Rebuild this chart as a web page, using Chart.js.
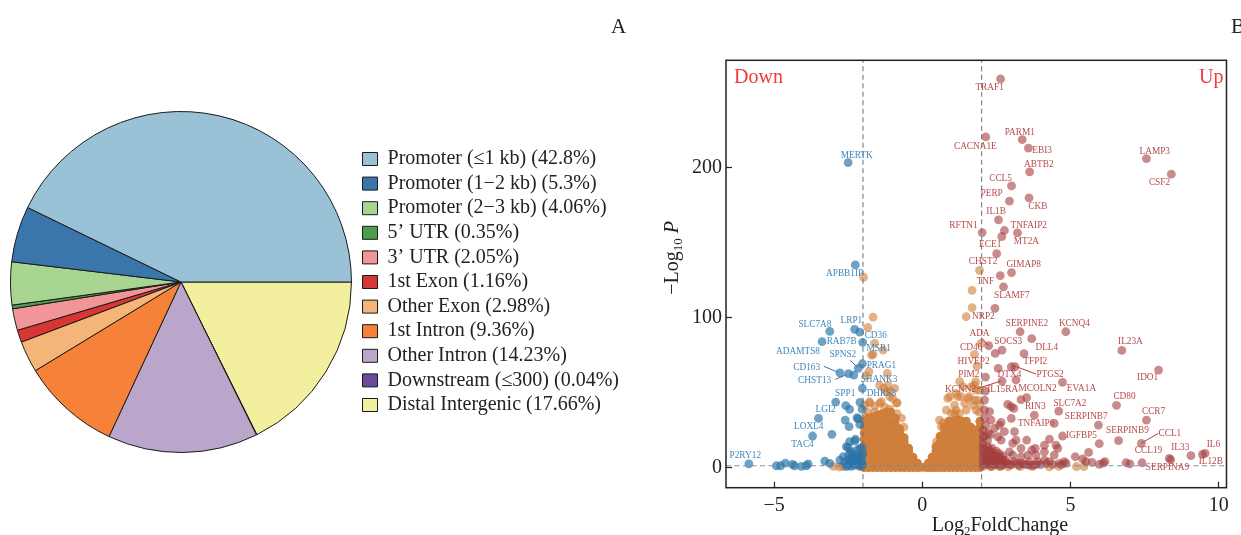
<!DOCTYPE html>
<html>
<head>
<meta charset="utf-8">
<script src="https://cdn.jsdelivr.net/npm/chart.js@4"></script>
<style>
html, body { margin: 0; padding: 0; background: #fff; overflow: hidden; }
#wrap { position: relative; width: 1241px; height: 535px; }
#pieBox { position: absolute; left: 0; top: 0; width: 640px; height: 535px; }
#volcanoBox { position: absolute; left: 640px; top: 0; width: 601px; height: 535px; }
</style>
</head>
<body>
<div id="wrap">
  <div id="pieBox"><canvas id="pieChart"></canvas></div>
  <div id="volcanoBox"><canvas id="volcanoChart"></canvas></div>
</div>
<script>
// panel A
var pieCategories = ['Promoter (≤1 kb)', 'Promoter (1−2 kb)', 'Promoter (2−3 kb)', '5’ UTR', '3’ UTR', '1st Exon', 'Other Exon', '1st Intron', 'Other Intron', 'Downstream (≤300)', 'Distal Intergenic'];
var pieValues = [42.8, 5.3, 4.06, 0.35, 2.05, 1.16, 2.98, 9.36, 14.23, 0.04, 17.66];
var pieColors = ['#9ac2d6', '#3a76ac', '#a8d692', '#4c9e4c', '#f19599', '#d83535', '#f5b478', '#f58238', '#baa6ca', '#6a4a9c', '#f2ef9e'];

// panel B as [log2FC, -log10P]
var downPoints = [[-2.50,203.1],[-2.26,135],[-3.12,90.8],[-2.28,92.1],[-2.11,90.3],[-3.38,83.9],[-2.01,83.4],[-2.02,69.2],[-2.16,66.1],[-2.78,63.2],[-2.49,62.6],[-2.31,61.7],
  [-2.02,52.8],[-2.92,43.7],[-2.58,41.3],[-2.45,38.8],[-2.10,43.5],[-2.03,39],[-3.5,32.8],[-2.2,33.3],[-2.17,32.5],[-2.6,31.7],[-2.11,28.8],[-2.47,27.3],[-3.70,21.1],[-3.05,22.2],
  [-2.45,17.3],[-2.25,19.1],[-2.28,17.7],[-2.56,14],[-2.5,13.6],[-2.11,12.9],[-2.0,9.5],[-2.17,8.4],[-2.36,9.5],[-2.67,7.3],[-2.78,5.1],[-2.39,6.2],[-3.29,4.4],[-3.12,2.9],
  [-5.85,2.6],[-4.92,1.3],[-4.78,1.3],[-4.62,3.1],[-4.38,2.2],[-4.31,1.3],[-4.08,0.9],[-3.91,1.3],[-3.85,2.6],[-2.5,1.8],[-2.56,0.7],[-2.22,2.9],[-2.05,4],[-2.34,4],[-2.11,7.3],
  [-2.44,3.2],[-2.3,1.6],[-2.15,1.5],[-2.62,3.4],[-2.02,2],[-2.26,6],[-2.08,5.6],[-2.42,10.8],[-2.03,13.4],[-2.21,11.6],[-2.4,0.9],[-2.28,3.1],[-2.12,2.4],[-2.5,5.5],[-2.32,7.4],[-2.18,5],[-2.05,7.2],[-2.48,8.6],[-2.06,1.2]];
var upPoints = [[2.64,258.8],[2.14,220.2],[3.37,218.4],[3.58,212.7],[3.62,196.9],[7.56,205.8],[8.40,195.4],[3.01,187.6],[2.94,177.4],[3.60,179.6],[2.57,165],[3.21,156.3],[2.77,157.9],
  [2.68,153.9],[2.02,156.5],[2.51,142.5],[3.01,129.9],[2.63,127.9],[2.74,120.4],[2.45,106.1],[3.30,90.5],[4.84,90.5],[3.69,85.9],[2.24,81.2],[2.46,76.1],[2.69,78.3],[3.43,75.9],
  [6.73,78.1],[2.56,66.1],[3.0,67.2],[3.13,67.2],[2.13,60.3],[3.16,58.4],[2.69,57.7],[4.73,56.8],[7.97,65],[3.52,46.6],[3.33,45.3],[2.88,42.2],[3.09,39.5],[3.0,40.6],[6.55,41.5],
  [4.60,37.7],[3.78,35],[7.56,31.7],[3.0,32.8],[5.94,28.4],[4.45,29.5],[4.73,21.1],[6.62,18],[5.97,16],[7.39,16.2],[5.61,10.2],[9.54,9.5],[9.45,8.9],[9.06,8],[8.33,6.2],[8.38,5.3],
  [5.16,7.3],[5.41,5.8],[5.52,4],[5.72,3.5],[6.16,4],[6.1,3],[5.97,2.2],[6.87,3.3],[7.0,2.6],[7.41,3.3],[2.13,51],[2.1,45],[2.1,38.4],[2.27,37.3],[2.1,32.8],[2.32,31.7],[2.43,26.2],
  [2.66,30.2],[2.6,28.4],[2.77,24],[2.55,20.6],[2.66,18.4],[3.11,24],[3.52,18.4],[3.16,18.4],[3.05,16.2],[2.94,10.6],[3.33,12.9],[4.29,19],[4.51,15],[4.12,15],[4.57,12.9],[4.12,10.6],
  [3.81,12.9],[3.7,11.8],[3.84,8.4],[4.45,8.4],[3.56,8.4],[3.33,7.3],[3.05,8.4],[4.79,4],[4.62,2.9],[4.85,2.9],[4.29,4],[4.12,5],[3.89,4],[3.61,4],[3.33,2.9],[3.1,4],[2.83,2.9],
  [2.05,1],[2.05,4],[2.05,7],[2.05,10],[2.05,13],[2.05,16],[2.05,20],[2.05,25],[2.2,2],[2.2,5],[2.2,8],[2.2,11],[2.2,14],[2.2,18],[2.35,1],[2.35,4],[2.35,7],[2.35,10],[2.35,13],
  [2.5,2],[2.5,5],[2.5,8],[2.5,11],[2.65,1],[2.65,4],[2.65,7],[2.8,5],[2.95,2],[3.25,1.5],[3.5,2],[3.75,1.5],[4.0,2],
  [2.12,3],[2.12,6],[2.12,9],[2.12,12],[2.28,3],[2.28,6],[2.28,9],[2.28,12],[2.42,2.5],[2.42,5.5],[2.42,8.5],[2.58,3],[2.58,6],[2.58,9.5],[2.72,2],[2.72,5],[2.72,8],[2.88,3],[3.02,2],[3.18,3],
  [3.42,2.5],[3.62,1.8],[3.85,2.2],[4.18,2.8],[4.4,2.2],[4.7,2],[2.14,28],[2.22,23],[2.1,21],[2.3,22]];
var flatPoints = [[-1.98,126.8],[-1.66,100.3],[-1.84,93.4],[-1.61,82.8],[-1.32,78.3],[-1.71,75],[-1.66,75.4],[-1.8,63.9],[-1.89,61.2],[-1.18,62.8],[-1.44,55],[-1.16,55],[-0.93,52.8],[-1.21,50.6],[-1.1,47.3],[-0.85,43.3],[-1.78,43.9],[-1.38,43.9],[-1.94,41.7],[-1.3,53],[-1.08,51],[-1.6,41],
  [1.93,131.4],[1.68,118],[1.68,106.5],[1.48,100.5],[1.98,82.8],[1.76,75.4],[1.84,67.7],[1.76,55],[1.8,57.3],[1.26,57.3],[1.37,54],[1.14,49.5],[0.92,47.3],[1.82,51.7],[1.59,47.3],[1.31,47.3],[1.87,45],[1.43,42.8],[1.09,41.7],[1.71,41.7],[0.81,38.4],[1.14,38.4],[1.48,38.4],[1.82,38.4],
  // lighter fringe over the dense mass
  [-1.77,43],[-1.44,43],[-1.27,40.4],[-0.87,43],[-0.7,33],[-1.0,46],[-1.84,37],[-1.6,37],[-1.1,39],[-1.92,34],[-0.85,36],[-0.62,27],
  [0.86,46.2],[1.09,36],[1.2,47.3],[1.54,46.2],[1.76,45],[1.93,51.7],[1.65,53.9],[0.98,36.4],[0.58,31.7],[0.48,17.3],[0.64,27.3],[1.25,36],[1.95,42],[1.92,37],[0.7,30],
  // along the base, past the cutoffs
  [-3.0,0.9],[-2.8,0.5],[-2.68,0.7],[-2.1,0.6],[2.3,0.6],[2.6,0.8],[2.9,0.5],[3.3,0.7],[3.7,0.8],[4.29,0.5],[4.6,0.9],[5.2,0.8],[5.45,0.8]];
// the dense mass between the cutoffs, column by column
var massPoints = [
  [-1.96,0],[-1.96,3],[-1.96,7],[-1.96,11],[-1.96,15],[-1.96,19],[-1.96,23],[-1.96,27],[-1.96,31],
  [-1.81,0],[-1.81,5],[-1.81,9],[-1.81,13],[-1.81,17],[-1.81,21],[-1.81,25],[-1.81,29],[-1.81,33],
  [-1.66,0],[-1.66,3],[-1.66,7],[-1.66,11],[-1.66,15],[-1.66,19],[-1.66,23],[-1.66,27],[-1.66,31],[-1.66,34],
  [-1.51,0],[-1.51,5],[-1.51,9],[-1.51,13],[-1.51,17],[-1.51,21],[-1.51,25],[-1.51,29],[-1.51,33],[-1.51,35],
  [-1.36,0],[-1.36,3],[-1.36,7],[-1.36,11],[-1.36,15],[-1.36,19],[-1.36,23],[-1.36,27],[-1.36,31],[-1.36,36],
  [-1.21,0],[-1.21,5],[-1.21,9],[-1.21,13],[-1.21,17],[-1.21,21],[-1.21,25],[-1.21,29],[-1.21,33],[-1.21,37],
  [-1.06,0],[-1.06,3],[-1.06,7],[-1.06,11],[-1.06,15],[-1.06,19],[-1.06,23],[-1.06,27],[-1.06,31],[-1.06,37],
  [-0.91,0],[-0.91,5],[-0.91,9],[-0.91,13],[-0.91,17],[-0.91,21],[-0.91,25],[-0.91,29],[-0.91,33],
  [-0.76,0],[-0.76,3],[-0.76,7],[-0.76,11],[-0.76,15],[-0.76,19],[-0.76,23],[-0.76,26],
  [-0.61,0],[-0.61,5],[-0.61,9],[-0.61,13],[-0.61,17],[-0.61,20],
  [-0.46,0],[-0.46,3],[-0.46,7],[-0.46,11],[-0.46,13],
  [-0.31,0],[-0.31,4],[-0.31,7],
  [-0.16,0],[-0.16,3],[-0.05,0.3],[0.08,0.3],
  [0.2,0],[0.2,3],
  [0.33,0],[0.33,4],[0.33,7],
  [0.46,0],[0.46,3],[0.46,7],[0.46,11],[0.46,14],
  [0.6,0],[0.6,5],[0.6,9],[0.6,13],[0.6,17],[0.6,21],
  [0.74,0],[0.74,3],[0.74,7],[0.74,11],[0.74,15],[0.74,19],[0.74,23],[0.74,27],
  [0.89,0],[0.89,5],[0.89,9],[0.89,13],[0.89,17],[0.89,21],[0.89,25],[0.89,29],[0.89,31],
  [1.04,0],[1.04,3],[1.04,7],[1.04,11],[1.04,15],[1.04,19],[1.04,23],[1.04,27],[1.04,31],
  [1.19,0],[1.19,5],[1.19,9],[1.19,13],[1.19,17],[1.19,21],[1.19,25],[1.19,29],[1.19,32],
  [1.34,0],[1.34,3],[1.34,7],[1.34,11],[1.34,15],[1.34,19],[1.34,23],[1.34,27],[1.34,31],
  [1.49,0],[1.49,5],[1.49,9],[1.49,13],[1.49,17],[1.49,21],[1.49,25],[1.49,29],[1.49,31],
  [1.64,0],[1.64,3],[1.64,7],[1.64,11],[1.64,15],[1.64,19],[1.64,23],[1.64,27],
  [1.79,0],[1.79,5],[1.79,9],[1.79,13],[1.79,17],[1.79,21],[1.79,25],
  [1.94,0],[1.94,3],[1.94,7],[1.94,11],[1.94,15],[1.94,19],[1.94,23],[1.94,27],[1.94,31]];

var geneNames = ['MERTK','APBB1IP','P2RY12','TAC4','LOXL4','LGI2','SPP1','DHRS3','SHANK3','CHST13','PRAG1','CD163','SPNS2','ADAMTS8','MSR1','RAB7B','CD36','SLC7A8','LRP1'];
var geneX = [-2.21,-2.62,-5.97,-4.04,-3.83,-3.26,-2.6,-1.38,-1.46,-3.63,-1.38,-3.9,-2.68,-4.19,-1.47,-2.72,-1.57,-3.62,-2.39];
var geneY = [207.6,129,8,15.7,27.7,38.6,49.3,49.3,58.6,57.7,67.9,67,75,77.2,79,84.1,88.3,95.6,97.9];
var upGeneNames = ['TRAF1','CACNA1E','PARM1','EBI3','ABTB2','LAMP3','CSF2','CCL5','PERP','CKB','IL1B','RFTN1','TNFAIP2','MT2A','ECE1','CHST2','GIMAP8','TNF','SLAMF7','NRP2','SERPINE2','KCNQ4','ADA','SOCS3','DLL4','CD40','IL23A','TFPI2','HIVEP2','PIM2','PTGS2','IDO1','DTX4','KCNN2','IL15RA','MCOLN2','EVA1A','CD80','SLC7A2','RIN3','CCR7','SERPINB7','TNFAIP6','SERPINB9','CCL1','IGFBP5','CCL19','IL33','IL6','IL12B','SERPINA9'];
var upGeneX = [2.27,1.79,3.29,4.04,3.93,7.84,8.0,2.64,2.34,3.9,2.49,1.39,3.59,3.51,2.29,2.05,3.42,2.13,3.02,2.06,3.53,5.13,1.93,2.9,4.2,1.65,7.02,3.81,1.73,1.57,4.31,7.6,2.94,1.29,2.71,3.89,5.37,6.82,4.98,3.81,7.8,5.53,3.84,6.92,8.35,5.37,7.63,8.7,9.82,9.73,8.27];
var upGeneY = [253,213.8,223.1,211.1,201.8,210.5,189.6,192.5,182.5,173.6,170.5,161.2,161.2,150.5,148.3,137.2,135.2,123.9,114.5,100.5,95.9,95.9,89.6,83.9,80.3,80.3,83.9,71,71,61.7,61.7,59.9,61.7,51.7,52.1,52.4,52.4,47.3,43,40.6,37.3,33.9,29.5,24.6,23,21.3,11.3,13.5,15.1,4,0];

var downLeaders = [[-2.43,71.4,-2.17,66.6],[-3.32,67.5,-2.84,63.5],[-2.93,58.8,-2.54,62.1]];
var upLeaders = [[1.98,86.8,2.24,81.2],[3.11,67.7,3.84,62.3],[1.87,52.8,2.66,57.7],[7.96,22.8,7.39,16.4]];

var xTicks = [-5, 0, 5, 10];
var yTicks = [0, 100, 200];
var xCutoffs = [-2, 2];
var yCutoff = 1.3;

var serif = '"Liberation Serif", "Times New Roman", serif';
Chart.defaults.animation = false;
Chart.defaults.responsive = false;
Chart.defaults.font.family = serif;

function panelLetter(letter, x, y) {
    return {
        id: 'panelLetter',
        afterDraw: function(chart) {
            var ctx = chart.ctx;
            ctx.save();
            ctx.font = '21px ' + serif;
            ctx.fillStyle = '#222';
            ctx.textAlign = 'left';
            ctx.textBaseline = 'alphabetic';
            ctx.fillText(letter, x, y);
            ctx.restore();
        }
    };
}

var pieCanvas = document.getElementById('pieChart');
pieCanvas.width = 640;
pieCanvas.height = 535;
new Chart(pieCanvas, {
    type: 'pie',
    data: {
        // the source runs anticlockwise from 3 o'clock, chart.js runs clockwise
        labels: pieCategories.map(function(c, i) { return c + ' (' + pieValues[i] + '%)'; }).reverse(),
        datasets: [{
            data: pieValues.slice().reverse(),
            backgroundColor: pieColors.slice().reverse(),
            borderColor: '#1a1a1a',
            borderWidth: 1
        }]
    },
    options: {
        rotation: 90,
        layout: { padding: { left: 4, right: 11, top: 111, bottom: 82 } },
        plugins: {
            tooltip: { enabled: false },
            legend: {
                position: 'right',
                labels: {
                    boxWidth: 15,
                    boxHeight: 13,
                    padding: 4.6,
                    color: '#222',
                    font: { size: 20, family: serif },
                    sort: function(a, b) { return b.index - a.index; }
                }
            }
        }
    },
    plugins: [panelLetter('A', 611, 33)]
});

function toXY(p) { return { x: p[0], y: p[1] }; }
function segments(list) {
    var out = [];
    list.forEach(function(s) {
        out.push({ x: s[0], y: s[1] }, { x: s[2], y: s[3] }, { x: NaN, y: NaN });
    });
    return out;
}
function scatterSet(points, color, order) {
    return { data: points.map(toXY), backgroundColor: color, borderWidth: 0, pointRadius: 4.4, order: order };
}
function lineSet(data, color, width, dash) {
    return { data: data, showLine: true, pointRadius: 0, borderColor: color, borderWidth: width, borderDash: dash || [], order: 0 };
}

var xMin = -6.62, xMax = 10.26, yMin = -13.3, yMax = 271.2;

var volcanoText = {
    id: 'volcanoText',
    afterDatasetsDraw: function(chart) {
        var ctx = chart.ctx, sx = chart.scales.x, sy = chart.scales.y, area = chart.chartArea;
        ctx.save();
        ctx.textAlign = 'center';
        ctx.textBaseline = 'middle';
        ctx.font = '9.3px ' + serif;
        ctx.fillStyle = '#3f86bc';
        geneNames.forEach(function(name, i) {
            ctx.fillText(name, sx.getPixelForValue(geneX[i]), sy.getPixelForValue(geneY[i]));
        });
        ctx.fillStyle = '#b84a4a';
        upGeneNames.forEach(function(name, i) {
            ctx.fillText(name, sx.getPixelForValue(upGeneX[i]), sy.getPixelForValue(upGeneY[i]));
        });
        ctx.font = '20px ' + serif;
        ctx.fillStyle = '#f23a3a';
        ctx.textAlign = 'left';
        ctx.fillText('Down', area.left + 8, area.top + 17);
        ctx.textAlign = 'right';
        ctx.fillText('Up', area.right - 3, area.top + 17);

        ctx.strokeStyle = '#222';
        ctx.lineWidth = 1.5;
        ctx.strokeRect(area.left, area.top, area.right - area.left, area.bottom - area.top);
        ctx.restore();
    }
};

// axis titles have subscripts and italics, so they are drawn run by run
function drawRuns(ctx, runs, cx, y) {
    var total = 0;
    runs.forEach(function(r) {
        ctx.font = r.font;
        total += ctx.measureText(r.text).width;
    });
    var x = cx - total / 2;
    ctx.textAlign = 'left';
    ctx.textBaseline = 'alphabetic';
    runs.forEach(function(r) {
        ctx.font = r.font;
        ctx.fillText(r.text, x, y + (r.dy || 0));
        x += ctx.measureText(r.text).width;
    });
}
var axisTitles = {
    id: 'axisTitles',
    afterDraw: function(chart) {
        var ctx = chart.ctx;
        ctx.save();
        ctx.fillStyle = '#222';
        drawRuns(ctx, [
            { text: 'Log', font: '20px ' + serif },
            { text: '2', font: '13px ' + serif, dy: 4 },
            { text: 'FoldChange', font: '20px ' + serif }
        ], 360, 531);
        ctx.translate(38, 258);
        ctx.rotate(-Math.PI / 2);
        drawRuns(ctx, [
            { text: '−Log', font: '20px ' + serif },
            { text: '10', font: '13px ' + serif, dy: 4 },
            { text: ' ', font: '20px ' + serif },
            { text: 'P', font: 'italic 20px ' + serif }
        ], 0, 0);
        ctx.restore();
    }
};

function fixedTicks(values) {
    return function(axis) {
        axis.ticks = values.map(function(v) { return { value: v }; });
    };
}
function tickLabel(v) { return String(v).replace('-', '−'); }

var volcanoCanvas = document.getElementById('volcanoChart');
volcanoCanvas.width = 601;
volcanoCanvas.height = 535;
new Chart(volcanoCanvas, {
    type: 'scatter',
    data: {
        datasets: [
            lineSet(segments(downLeaders), '#2f78ae', 1),
            lineSet(segments(upLeaders), '#b03a3a', 1),
            lineSet([{ x: xCutoffs[0], y: yMin }, { x: xCutoffs[0], y: yMax }], 'rgba(105,112,120,0.85)', 1.2, [5, 3.5]),
            lineSet([{ x: xCutoffs[1], y: yMin }, { x: xCutoffs[1], y: yMax }], 'rgba(105,112,120,0.85)', 1.2, [5, 3.5]),
            lineSet([{ x: xMin, y: yCutoff }, { x: xMax, y: yCutoff }], 'rgba(110,140,165,0.9)', 1.2, [5, 3.5]),
            scatterSet(downPoints, 'rgba(42,116,168,0.68)', 1),
            scatterSet(upPoints, 'rgba(165,62,62,0.6)', 2),
            scatterSet(flatPoints, 'rgba(207,125,55,0.6)', 3),
            scatterSet(massPoints, '#cf7f3b', 4)
        ]
    },
    options: {
        layout: { padding: { top: 60.3, right: 13.7, left: 0, bottom: 0 } },
        events: [],
        plugins: { legend: { display: false }, tooltip: { enabled: false } },
        scales: {
            x: {
                type: 'linear',
                min: xMin,
                max: xMax,
                afterBuildTicks: fixedTicks(xTicks),
                afterFit: function(axis) { axis.height = 47.3; },
                border: { display: false },
                grid: { drawOnChartArea: false, drawTicks: true, tickLength: -6, tickColor: '#222', tickWidth: 1.2 },
                ticks: { color: '#222', padding: 12, maxRotation: 0, font: { size: 20, family: serif }, callback: tickLabel }
            },
            y: {
                type: 'linear',
                min: yMin,
                max: yMax,
                afterBuildTicks: fixedTicks(yTicks),
                afterFit: function(axis) { axis.width = 86; },
                border: { display: false },
                grid: { drawOnChartArea: false, drawTicks: true, tickLength: -6, tickColor: '#222', tickWidth: 1.2 },
                ticks: { color: '#222', padding: 10, font: { size: 20, family: serif }, callback: tickLabel }
            }
        }
    },
    plugins: [volcanoText, axisTitles, panelLetter('B', 591, 33)]
});
</script>
</body>
</html>
